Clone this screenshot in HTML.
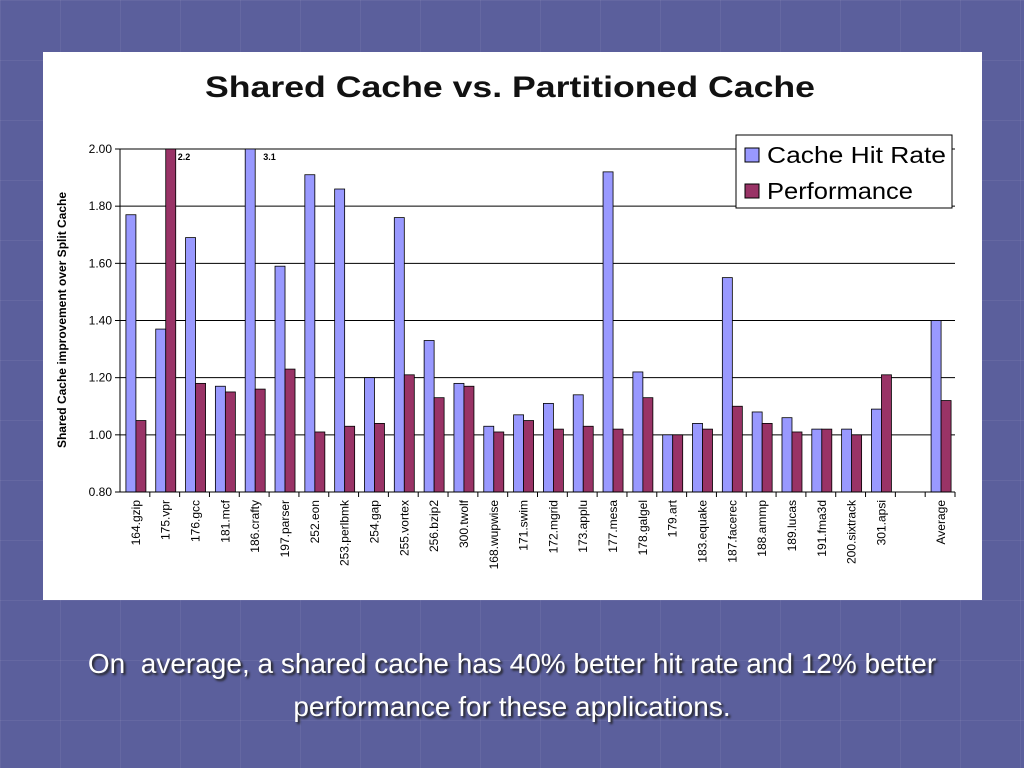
<!DOCTYPE html>
<html><head><meta charset="utf-8"><style>
body{margin:0;width:1024px;height:768px;overflow:hidden;background:#5d6099;font-family:"Liberation Sans",sans-serif;}
#bg{position:absolute;left:0;top:0;width:1024px;height:768px;
background-color:#5b5f9c;
background-image:linear-gradient(rgba(255,255,255,0.06) 1px,transparent 1px),linear-gradient(90deg,rgba(255,255,255,0.06) 1px,transparent 1px);
background-size:60px 60px;}
#caption{position:absolute;left:0;top:642px;width:1024px;text-align:center;color:#fff;font-size:28px;line-height:43px;text-shadow:2px 2px 2px #222;}
</style></head><body>
<div id="bg"></div>
<svg id="chart" width="1024" height="768" style="position:absolute;left:0;top:0" font-family="Liberation Sans, sans-serif"></svg>
<div id="caption">On&nbsp; average, a shared cache has 40% better hit rate and 12% better<br>performance for these applications.</div>
<script>
const categories=["164.gzip","175.vpr","176.gcc","181.mcf","186.crafty","197.parser","252.eon","253.perlbmk","254.gap","255.vortex","256.bzip2","300.twolf","168.wupwise","171.swim","172.mgrid","173.applu","177.mesa","178.galgel","179.art","183.equake","187.facerec","188.ammp","189.lucas","191.fma3d","200.sixtrack","301.apsi","","Average"];
const hitRate=[1.77,1.37,1.69,1.17,3.1,1.59,1.91,1.86,1.20,1.76,1.33,1.18,1.03,1.07,1.11,1.14,1.92,1.22,1.00,1.04,1.55,1.08,1.06,1.02,1.02,1.09,null,1.40];
const performance=[1.05,2.2,1.18,1.15,1.16,1.23,1.01,1.03,1.04,1.21,1.13,1.17,1.01,1.05,1.02,1.03,1.02,1.13,1.00,1.02,1.10,1.04,1.01,1.02,1.00,1.21,null,1.12];
const yTicks=[0.8,1.0,1.2,1.4,1.6,1.8,2.0];
const yMin=0.8,yMax=2.0;
const NS="http://www.w3.org/2000/svg";
const svg=document.getElementById('chart');
function mk(t,a,p){const e=document.createElementNS(NS,t);for(const k in a)e.setAttribute(k,a[k]);(p||svg).appendChild(e);return e;}
const L=120,R=955,T=149,B=492;
const cw=(R-L)/categories.length;
function y(v){return B-(Math.min(v,yMax)-yMin)/(yMax-yMin)*(B-T);}
const panel=mk('rect',{x:43,y:52,width:939,height:548,fill:'#fff'});

const title=mk('text',{x:205,y:97,'font-size':30,'font-weight':'bold',fill:'#111',textLength:610,lengthAdjust:'spacingAndGlyphs'});title.textContent='Shared Cache vs. Partitioned Cache';

yTicks.forEach(t=>{
 const g=mk('line',{x1:L,x2:R,y1:y(t),y2:y(t),stroke:'#000','stroke-width':1});
 
 mk('line',{x1:L-5,x2:L,y1:y(t),y2:y(t),stroke:'#000'});
 const tl=mk('text',{x:L-8,y:y(t)+4,'text-anchor':'end','font-size':12,fill:'#000'});tl.textContent=t.toFixed(2);
 
});
mk('line',{x1:L,x2:L,y1:T,y2:B,stroke:'#000'});
const yt=mk('text',{transform:'translate(66,320) rotate(-90)','text-anchor':'middle','font-size':12,'font-weight':'bold',fill:'#000'});yt.textContent='Shared Cache improvement over Split Cache';

const bw=10;
categories.forEach((c,i)=>{
 const cx=L+cw*(i+0.5)+1;
 mk('line',{x1:L+cw*(i+1),x2:L+cw*(i+1),y1:B,y2:B+5,stroke:'#000'});
 const lb=mk('text',{transform:`translate(${cx+4},${B+8}) rotate(-90)`,'text-anchor':'end','font-size':12,fill:'#000'});lb.textContent=c;
 
 if(hitRate[i]!=null){
  const b=mk('rect',{x:cx-bw,y:y(hitRate[i]),width:bw,height:B-y(hitRate[i]),fill:'#9999ff',stroke:'#000','stroke-width':0.8});
  
  if(hitRate[i]>yMax){const t=mk('text',{x:cx+8,y:T+11,'font-size':9,'font-weight':'bold'});t.textContent=hitRate[i].toFixed(1);
   }
 }
 if(performance[i]!=null){
  const b=mk('rect',{x:cx,y:y(performance[i]),width:bw,height:B-y(performance[i]),fill:'#993366',stroke:'#000','stroke-width':0.8});
  
  if(performance[i]>yMax){const t=mk('text',{x:cx+bw+2,y:T+11,'font-size':9,'font-weight':'bold'});t.textContent=performance[i].toFixed(1);
   }
 }
});
mk('line',{x1:L,x2:R,y1:B,y2:B,stroke:'#000'});
const lg=mk('g',{});
mk('rect',{x:736,y:135,width:216,height:73,fill:'#fff',stroke:'#000'},lg);
mk('rect',{x:745,y:148,width:14,height:14,fill:'#9999ff',stroke:'#000'},lg);
mk('rect',{x:745,y:184,width:14,height:14,fill:'#993366',stroke:'#000'},lg);
const l1=mk('text',{x:767,y:163,'font-size':23,textLength:179,lengthAdjust:'spacingAndGlyphs'},lg);l1.textContent='Cache Hit Rate';

const l2=mk('text',{x:767,y:199,'font-size':23,textLength:146,lengthAdjust:'spacingAndGlyphs'},lg);l2.textContent='Performance';

</script>
</body></html>
